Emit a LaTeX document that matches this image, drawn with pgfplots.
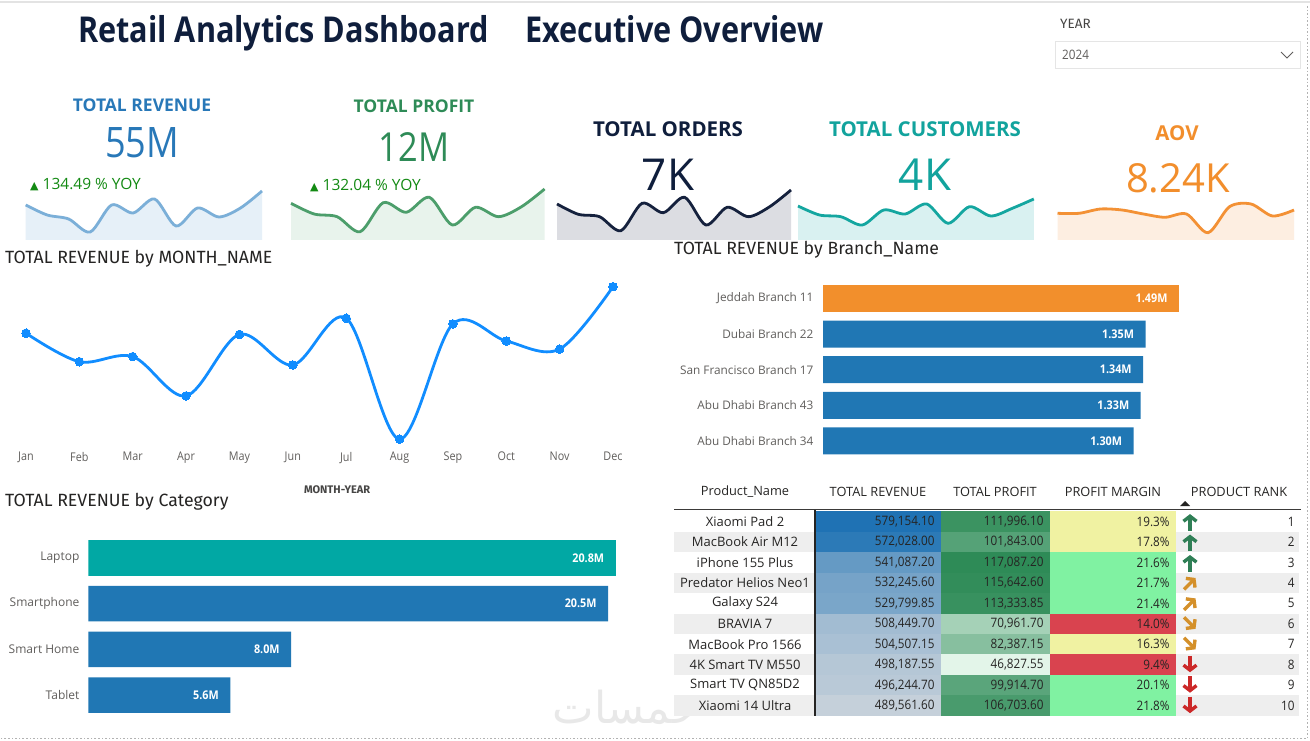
\documentclass[border=0pt]{standalone}
\usepackage{fontspec}
\setmainfont{Open Sans}
\newfontfamily\kpif[FakeStretch=0.86]{Open Sans}
\newfontfamily\narrowf[FakeStretch=0.9]{Open Sans}
\newfontfamily\dinf{Fira Sans}
\newfontfamily\symf{DejaVu Sans}
\newfontfamily\arabicfont[Script=Arabic]{DejaVu Sans}
\TeXXeTstate=1
\usepackage{pgfplots}
\pgfplotsset{compat=1.18}
\usetikzlibrary{arrows.meta}
\newcommand\fs[1]{\fontsize{#1}{#1}\selectfont}

\definecolor{navy}{HTML}{0F1E3C}
\definecolor{kblue}{HTML}{2878B8}
\definecolor{kgreen}{HTML}{2E8B57}
\definecolor{kteal}{HTML}{12A39D}
\definecolor{korange}{HTML}{F28E2C}
\definecolor{yoy}{HTML}{138A13}
\definecolor{ttl}{HTML}{252423}
\definecolor{lbl}{HTML}{605E5C}
\definecolor{linebl}{HTML}{118DFF}
\definecolor{barbl}{HTML}{2077B4}
\definecolor{barteal}{HTML}{01A8A4}
\definecolor{baror}{HTML}{F28F2C}
% sparklines
\definecolor{s1l}{HTML}{7BAFD8}\definecolor{s1f}{HTML}{E6F0F8}
\definecolor{s2l}{HTML}{4C9E6B}\definecolor{s2f}{HTML}{E8F3EC}
\definecolor{s3l}{HTML}{15213D}\definecolor{s3f}{HTML}{DCDDE2}
\definecolor{s4l}{HTML}{14A6A0}\definecolor{s4f}{HTML}{D9F1F1}
\definecolor{s5l}{HTML}{F39135}\definecolor{s5f}{HTML}{FDEEE1}
% table
\definecolor{revmax}{HTML}{1F72B4}\definecolor{revmin}{HTML}{C5D0DA}
\definecolor{pfmax}{HTML}{2E8B57}\definecolor{pfmin}{HTML}{E3F5E9}
\definecolor{mG}{HTML}{80F2A2}\definecolor{mY}{HTML}{F0F2A2}\definecolor{mR}{HTML}{D9434F}
\definecolor{rowg}{HTML}{EEEEEE}
\definecolor{arG}{HTML}{2F7F56}\definecolor{arO}{HTML}{D4902A}\definecolor{arR}{HTML}{CC2828}

% rank arrows, drawn in the table scope (px units)
\tikzset{rankarrow/.style={line width=3.4pt, -{Straight Barb[length=5pt,width=13pt]}}}
\newcommand\drawU[1]{\draw[arG, rankarrow] (1190,#1+9) -- (1190,#1-7.5);}
\newcommand\drawNE[1]{\draw[arO, rankarrow] (1184,#1+6.5) -- (1195.5,#1-5);}
\newcommand\drawSE[1]{\draw[arO, rankarrow] (1184,#1-6.5) -- (1195.5,#1+5);}
\newcommand\drawD[1]{\draw[arR, rankarrow] (1190,#1-9) -- (1190,#1+7.5);}

\pgfplotsset{
  spark/.style={scale only axis, axis lines=none, anchor=south west,
    xmin=0, xmax=11, ymin=0, ymax=60, height=60pt, clip=false},
  hbars/.style={scale only axis, anchor=south west, xbar, y dir=reverse,
    axis line style={draw=none}, major tick length=0pt, xtick=\empty,
    yticklabel style={font=\fs{11.8}, text=lbl},
    nodes near coords,
    every node near coord/.append style={anchor=east, xshift=-8pt, text=white, font=\narrowf\bfseries\fs{12}}},
}

\begin{document}
\begin{tikzpicture}
\begin{scope}[x=1pt,y=-1pt]
\fill[white] (0,0) rectangle (1310,741);
\path[use as bounding box] (0,0) rectangle (1310,741);
\draw[gray!22, line width=2] (0,2) -- (1310,2);
\node[text=black!9] at (626,707) {\arabicfont\fs{44}\beginR خمسات\endR};

% header
\node[inner sep=0, anchor=base west, text=navy, font=\kpif\bfseries\fs{35.6}] at (78,43) {Retail Analytics Dashboard};
\node[inner sep=0, anchor=base west, text=navy, font=\kpif\bfseries\fs{35.6}] at (525,43) {Executive Overview};
\node[inner sep=0, anchor=west, text=ttl!85, font=\dinf\fs{13.5}] at (1060,24) {YEAR};
\draw[black!10, line width=0.8] (1055,41) rectangle (1300,68);
\node[inner sep=0, anchor=west, text=lbl, font=\narrowf\fs{13}] at (1062,55) {2024};
\draw[lbl, line width=0.8] (1281,52) -- (1287,58) -- (1293,52);

% KPI texts
\node[text=kblue, font=\bfseries\fs{17.5}] at (142,105) {TOTAL REVENUE};
\node[text=kblue, font=\kpif\fs{42}] at (142,143) {55M};
\node[inner sep=0, anchor=west, text=yoy, font=\fs{15.5}] at (30,185) {{\symf\fs{11}▲} 134.49 \% YOY};
\node[text=kgreen, font=\bfseries\fs{17.5}] at (414,106) {TOTAL PROFIT};
\node[text=kgreen, font=\kpif\fs{40}] at (414,147) {12M};
\node[inner sep=0, anchor=west, text=yoy, font=\fs{15.5}] at (310,186) {{\symf\fs{11}▲} 132.04 \% YOY};
\node[text=navy, font=\bfseries\fs{20.5}] at (668,129) {TOTAL ORDERS};
\node[text=navy, font=\fs{44}] at (668,175) {7K};
\node[text=kteal, font=\bfseries\fs{20.5}] at (925,129) {TOTAL CUSTOMERS};
\node[text=kteal, font=\fs{44}] at (925,175) {4K};
\node[text=korange, font=\bfseries\fs{20.5}] at (1177,133) {AOV};
\node[text=korange, font=\fs{40}] at (1178,178) {8.24K};

% visual titles
\node[inner sep=0, anchor=base west, text=ttl, font=\dinf\fs{17.7}] at (5,263) {TOTAL REVENUE by MONTH\_NAME};
\node[inner sep=0, anchor=base west, text=ttl, font=\dinf\fs{17.7}] at (674,254) {TOTAL REVENUE by Branch\_Name};
\node[inner sep=0, anchor=base west, text=ttl, font=\dinf\fs{17.7}] at (5,506) {TOTAL REVENUE by Category};

% table
\foreach \i/\nm/\rv/\rp/\pf/\pp/\mg/\mc/\ar in {
  1/Xiaomi Pad 2/{579,154.10}/100/{111,996.10}/92.8/19.3/mY/U,
  2/MacBook Air M12/{572,028.00}/92.0/{101,843.00}/78.3/17.8/mY/U,
  3/iPhone 155 Plus/{541,087.20}/57.5/{117,087.20}/100/21.6/mG/U,
  4/Predator Helios Neo1/{532,245.60}/47.6/{115,642.60}/97.9/21.7/mG/NE,
  5/Galaxy S24/{529,799.85}/44.9/{113,333.85}/94.7/21.4/mG/NE,
  6/BRAVIA 7/{508,449.70}/21.1/{70,961.70}/34.3/14.0/mR/SE,
  7/MacBook Pro 1566/{504,507.15}/16.7/{82,387.15}/50.6/16.3/mY/SE,
  8/4K Smart TV M550/{498,187.55}/9.6/{46,827.55}/0/9.4/mR/D,
  9/Smart TV QN85D2/{496,244.70}/7.5/{99,914.70}/75.6/20.1/mG/D,
  10/Xiaomi 14 Ultra/{489,561.60}/0/{106,703.60}/85.2/21.8/mG/D}{
  \pgfmathsetmacro\yt{511.3+20.45*(\i-1)}
  \pgfmathsetmacro\yb{\yt+20.45}
  \pgfmathsetmacro\yc{\yt+10.3}
  \ifodd\i\else
    \fill[rowg] (674,\yt) rectangle (815,\yb);
    \fill[rowg] (1176,\yt) rectangle (1299,\yb);
  \fi
  \fill[revmax!\rp!revmin] (815,\yt) rectangle (940.5,\yb);
  \fill[pfmax!\pp!pfmin] (940.5,\yt) rectangle (1049.5,\yb);
  \fill[\mc] (1049.5,\yt) rectangle (1176,\yb);
  \node[text=ttl, font=\fs{13}] at (745,\yc) {\nm};
  \node[anchor=east, text=ttl, font=\narrowf\fs{13}] at (938,\yc) {\rv};
  \node[anchor=east, text=ttl, font=\narrowf\fs{13}] at (1047,\yc) {\pf};
  \node[anchor=east, text=ttl, font=\narrowf\fs{13}] at (1173,\yc) {\mg\%};
  \csname draw\ar\endcsname{\yc}
  \node[anchor=east, text=ttl, font=\narrowf\fs{13}] at (1298,\yc) {\i};
}
\foreach \x/\t in {745/Product\_Name, 878/TOTAL REVENUE, 995/TOTAL PROFIT, 1113/PROFIT MARGIN, 1239/PRODUCT RANK}
  \node[text=ttl, font=\fs{12.8}] at (\x,492) {\t};
\fill[ttl] (1180,506) -- (1190,506) -- (1185,501) -- cycle;
\draw[ttl!90, line width=1.6] (674,509.5) -- (1301,509.5);
\draw[ttl, line width=2] (815,510) -- (815,716);

% borders
\draw[gray!60, dotted, line width=1.6] (1307.5,6) -- (1307.5,738.5) -- (0,738.5);
\end{scope}

% sparklines
\begin{axis}[spark, at={(25.7pt,-240pt)}, width=236.3pt]
\addplot[fill=s1f, draw=none, smooth] coordinates {(0,35) (1,25) (2,21) (3,8) (4,35) (5,27) (6,41) (7,14) (8,32) (9,23) (10,32) (11,49)} \closedcycle;
\addplot[s1l, line width=2.8pt, smooth] coordinates {(0,35) (1,25) (2,21) (3,8) (4,35) (5,27) (6,41) (7,14) (8,32) (9,23) (10,32) (11,49)};
\end{axis}
\begin{axis}[spark, at={(291pt,-240pt)}, width=253.6pt]
\addplot[fill=s2f, draw=none, smooth] coordinates {(0,36.7) (1,26) (2,23.3) (3,8.3) (4,37.3) (5,27.7) (6,42.7) (7,15) (8,32.7) (9,23.3) (10,33.3) (11,51)} \closedcycle;
\addplot[s2l, line width=2.8pt, smooth] coordinates {(0,36.7) (1,26) (2,23.3) (3,8.3) (4,37.3) (5,27.7) (6,42.7) (7,15) (8,32.7) (9,23.3) (10,33.3) (11,51)};
\end{axis}
\begin{axis}[spark, at={(557pt,-240pt)}, width=234pt]
\addplot[fill=s3f, draw=none, smooth] coordinates {(0,36) (1,25.7) (2,23.3) (3,9.3) (4,36.7) (5,27.3) (6,42.7) (7,15) (8,32.7) (9,23.3) (10,33.3) (11,50)} \closedcycle;
\addplot[s3l, line width=2.8pt, smooth] coordinates {(0,36) (1,25.7) (2,23.3) (3,9.3) (4,36.7) (5,27.3) (6,42.7) (7,15) (8,32.7) (9,23.3) (10,33.3) (11,50)};
\end{axis}
\begin{axis}[spark, at={(798pt,-240pt)}, width=235.8pt]
\addplot[fill=s4f, draw=none, smooth] coordinates {(0,34) (1,25) (2,23.3) (3,15) (4,30) (5,26) (6,36) (7,16.7) (8,33.3) (9,24) (10,31.7) (11,41)} \closedcycle;
\addplot[s4l, line width=2.8pt, smooth] coordinates {(0,34) (1,25) (2,23.3) (3,15) (4,30) (5,26) (6,36) (7,16.7) (8,33.3) (9,24) (10,31.7) (11,41)};
\end{axis}
\begin{axis}[spark, at={(1057.5pt,-240pt)}, width=236.5pt]
\addplot[fill=s5f, draw=none, smooth] coordinates {(0,26.7) (1,26.7) (2,31) (3,30) (4,26) (5,22.7) (6,26) (7,7.3) (8,33.3) (9,36) (10,24) (11,30)} \closedcycle;
\addplot[s5l, line width=2.8pt, smooth] coordinates {(0,26.7) (1,26.7) (2,31) (3,30) (4,26) (5,22.7) (6,26) (7,7.3) (8,33.3) (9,36) (10,24) (11,30)};
\end{axis}

% revenue by month
\begin{axis}[scale only axis, anchor=south west, at={(26pt,-445pt)},
  width=587pt, height=170pt, xmin=0, xmax=11, ymin=1.33333, ymax=7,
  axis line style={draw=none}, major tick length=0pt, ytick=\empty,
  xtick={0,...,11}, xticklabels={Jan,Feb,Mar,Apr,May,Jun,Jul,Aug,Sep,Oct,Nov,Dec},
  xticklabel style={font=\narrowf\fs{12}, text=lbl, yshift=-3.5pt},
  xlabel={MONTH-YEAR}, xlabel style={at={(axis description cs:0.53,0)}, anchor=center, yshift=-45pt, font=\dinf\bfseries\fs{11}, text=ttl!85},
  clip=false]
\addplot[linebl, line width=2.8pt, smooth, tension=0.55, mark=*, mark size=4.3pt, mark options={fill=linebl, draw=linebl, line width=0pt}]
  coordinates {(0,5.06) (1,4.11) (2,4.28) (3,2.97) (4,5.02) (5,4.00) (6,5.56) (7,1.53) (8,5.37) (9,4.80) (10,4.53) (11,6.61)};
\end{axis}

% revenue by branch
\begin{axis}[hbars, at={(823pt,-458.7pt)}, width=477.8pt, height=178pt,
  xmin=0, xmax=2, ymin=-0.5, ymax=4.5, bar width=27pt,
  ytick={0,...,4}, yticklabels={Jeddah Branch 11,Dubai Branch 22,San Francisco Branch 17,Abu Dhabi Branch 43,Abu Dhabi Branch 34},
  yticklabel style={xshift=-6pt},
  nodes near coords={\pgfmathprintnumber[fixed,fixed zerofill,precision=2,assume math mode=true]{\pgfplotspointmeta}M}]
\addplot[fill=baror, draw=none, bar shift=0pt] coordinates {(1.49,0)};
\addplot[fill=barbl, draw=none, bar shift=0pt] coordinates {(1.35,1) (1.34,2) (1.33,3) (1.30,4)};
\end{axis}

% revenue by category
\begin{axis}[hbars, at={(88.4pt,-718.1pt)}, width=557.7pt, height=183.2pt,
  xmin=0, xmax=22, ymin=-0.5, ymax=3.5, bar width=35.5pt,
  ytick={0,...,3}, yticklabels={Laptop,Smartphone,Smart Home,Tablet},
  yticklabel style={xshift=-5.5pt, font=\fs{12}},
  nodes near coords={\pgfmathprintnumber[fixed,fixed zerofill,precision=1,assume math mode=true]{\pgfplotspointmeta}M}]
\addplot[fill=barteal, draw=none, bar shift=0pt] coordinates {(20.8,0)};
\addplot[fill=barbl, draw=none, bar shift=0pt] coordinates {(20.5,1) (8.0,2) (5.6,3)};
\end{axis}
\end{tikzpicture}
\end{document}
